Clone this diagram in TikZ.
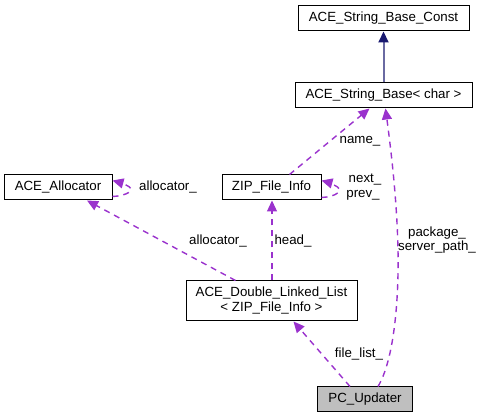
\documentclass[tikz,border=0pt]{standalone}
\usepackage{fontspec}
\setmainfont{Liberation Sans}
\usetikzlibrary{arrows.meta}

\definecolor{edgeuse}{HTML}{9A32CD}
\definecolor{edgeinh}{HTML}{191970}
\definecolor{classfill}{HTML}{BFBFBF}

\tikzset{
    classbox/.style={draw=black, line width=1pt, fill=white, inner sep=0pt,
        minimum height=25, align=center, font=\fontsize{13.3}{15}\selectfont},
    usage/.style={draw=edgeuse, line width=1.4pt, dash pattern=on 6pt off 5pt,
        -{Triangle[length=11pt,width=10pt]}, edgeuse},
    inherits/.style={draw=edgeinh!65, line width=2pt,
        -{Triangle[length=11pt,width=10pt,color=edgeinh]}},
    edgelabel/.style={font=\fontsize{13.3}{14.5}\selectfont, inner sep=0pt, align=center, text=black}
}

\begin{document}
\begin{tikzpicture}[x=1pt, y=-1pt]
        \useasboundingbox (0,0) rectangle (480,419);

        % classes
        \node[classbox, minimum width=171] (StringBaseConst) at (383.5,18.5) {ACE\_String\_Base\_Const};
        \node[classbox, minimum width=177] (StringBase) at (383.5,95.5) {ACE\_String\_Base\textless{} char \textgreater};
        \node[classbox, minimum width=108] (Allocator) at (58,187.5) {ACE\_Allocator};
        \node[classbox, minimum width=99] (ZipFileInfo) at (271.5,187.5) {ZIP\_File\_Info};
        \node[classbox, minimum width=171, minimum height=40] (DoubleLinkedList) at (271.5,301)
            {ACE\_Double\_Linked\_List\\\textless{} ZIP\_File\_Info \textgreater};
        \node[classbox, minimum width=95, fill=classfill] (PCUpdater) at (365,399.5) {PC\_Updater};

        % inheritance
        \draw[inherits] (StringBase) -- (StringBaseConst);

        % members
        \draw[usage] (ZipFileInfo.north) ++(18,0) -- ([xshift=-14]StringBase.south);
        \node[edgelabel] (lblName) at (360,141) {name\_};

        \draw[usage] (ZipFileInfo.south east) ++(0,-3) .. controls (336,197) and (346,190) .. (334,185)
            .. controls (330,183) and (327,182) .. ([yshift=7]ZipFileInfo.east);
        \node[edgelabel] (lblNext) at (365,180) {next\_};
        \node[edgelabel] (lblPrev) at (363,195) {prev\_};

        \draw[usage] (Allocator.south east) ++(0,-4) .. controls (126,196) and (138,190) .. (126,185)
            .. controls (122,183) and (118,182) .. ([yshift=7]Allocator.east);
        \node[edgelabel] (lblAllocSelf) at (168,187) {allocator\_};

        \draw[usage] ([xshift=-36]DoubleLinkedList.north) -- ([xshift=29]Allocator.south);
        \node[edgelabel] (lblAlloc) at (218,241) {allocator\_};

        \draw[usage, line width=1.2pt] ([xshift=0.5]DoubleLinkedList.north) -- ([xshift=0.5]ZipFileInfo.south);
        \node[edgelabel] (lblHead) at (293,241) {head\_};

        \draw[usage] ([xshift=-15]PCUpdater.north) -- ([xshift=22]DoubleLinkedList.south);
        \node[edgelabel] (lblFileList) at (359,354) {file\_list\_};

        \draw[usage] ([xshift=13]PCUpdater.north) .. controls (394,360) and (399,300) .. (398,250)
            .. controls (397,200) and (391,150) .. ([xshift=2]StringBase.south);
        \node[edgelabel] (lblPackage) at (437,240) {package\_\\server\_path\_};
\end{tikzpicture}
\end{document}
